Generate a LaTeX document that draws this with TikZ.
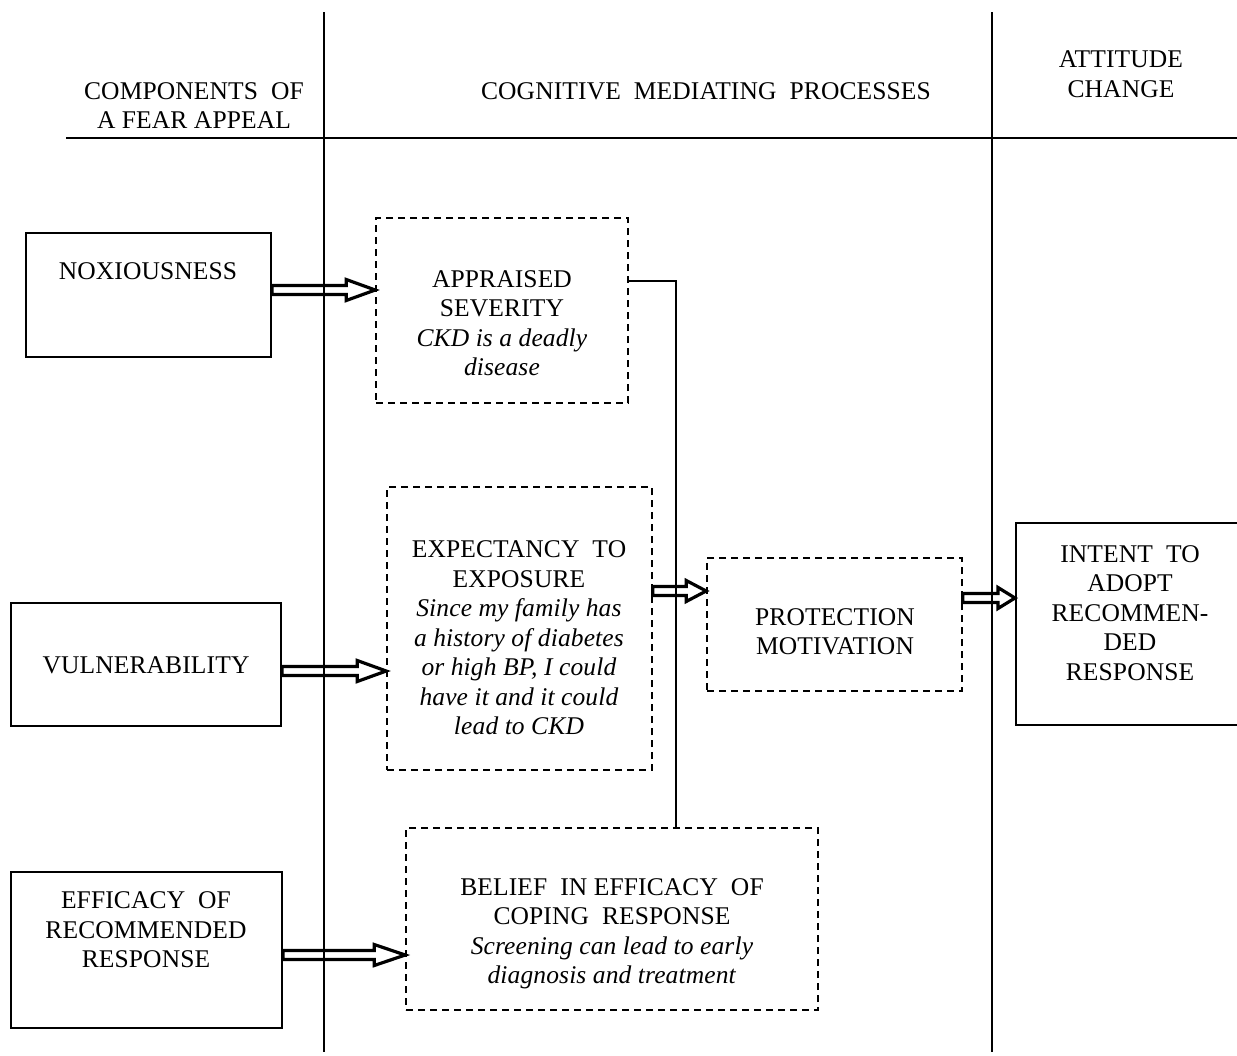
\documentclass[tikz,border=0pt]{standalone}
\usepackage{fontspec}
\setmainfont{Liberation Serif}[LetterSpace=0.5]
\usetikzlibrary{calc}
\newcommand{\blockarr}[3]{%
  \draw[blockarrow] let \p1=(#1), \p2=(#2) in
    (\x1,\y1+4.5pt) -- (\x2-#3,\y1+4.5pt) -- (\x2-#3,\y1+10.5pt) -- (\x2,\y1)
    -- (\x2-#3,\y1-10.5pt) -- (\x2-#3,\y1-4.5pt) -- (\x1,\y1-4.5pt) -- cycle;}
\begin{document}
\begin{tikzpicture}[x=1pt,y=-1pt,
  solidbox/.style={draw,line width=2pt,inner sep=0pt},
  dashbox/.style={draw,line width=1.6pt,dash pattern=on 7pt off 5pt,inner sep=0pt},
  lbl/.style={align=center,font=\fontsize{25.5}{29.5}\selectfont,inner sep=0pt},
  rule/.style={line width=2.2pt},
  blockarrow/.style={line width=3.2pt,line join=miter}]
\clip (0,0) rectangle (1237,1055);

% column rules
\coordinate (vt1) at (324,12);  \coordinate (vb1) at (324,1052);
\coordinate (vt2) at (992,12);  \coordinate (vb2) at (992,1052);
\coordinate (hl)  at (66,138);  \coordinate (hr)  at (1240,138);
\draw[rule] (vt1) -- (vb1);
\draw[rule] (vt2) -- (vb2);
\draw[rule] (hl) -- (hr);

% headers
\node[lbl] (h1) at (194,105.5) {COMPONENTS\ \ OF\\A FEAR APPEAL};
\node[lbl] (h2) at (706,91) {COGNITIVE\ \ MEDIATING\ \ PROCESSES};
\node[lbl] (h3) at (1121,74) {ATTITUDE\\CHANGE};

% boxes
\node[solidbox,minimum width=245pt,minimum height=124pt] (nox) at (148.5,295) {};
\node[solidbox,minimum width=270pt,minimum height=123pt] (vul) at (146,664.5) {};
\node[solidbox,minimum width=271pt,minimum height=156pt] (eff) at (146.5,950) {};
\node[dashbox,minimum width=252pt,minimum height=185pt] (app) at (502,310.5) {};
\node[dashbox,minimum width=265pt,minimum height=283pt] (exp) at (519.5,628.5) {};
\node[dashbox,minimum width=412pt,minimum height=182pt] (bel) at (612,919) {};
\node[dashbox,minimum width=255pt,minimum height=133pt] (pro) at (834.5,624.5) {};
\node[solidbox,minimum width=229pt,minimum height=202pt] (int) at (1130.5,624) {};

% texts
\node[lbl] (noxt) at (148,271) {NOXIOUSNESS};
\node[lbl] (vult) at (146,665) {VULNERABILITY};
\node[lbl] (efft) at (146,930) {EFFICACY\ \ OF\\RECOMMENDED\\RESPONSE};
\node[lbl] (appt) at (502,323) {APPRAISED\\SEVERITY\\\textit{CKD is a deadly}\\\textit{disease}};
\node[lbl] (expt) at (519,638) {EXPECTANCY\ \ TO\\EXPOSURE\\\textit{Since my family has}\\\textit{a history of diabetes}\\\textit{or high BP, I could}\\\textit{have it and it could}\\\textit{lead to CKD}};
\node[lbl] (belt) at (612,934) {BELIEF\ \ IN EFFICACY\ \ OF\\COPING\ \ RESPONSE\\\textit{Screening can lead to early}\\\textit{diagnosis and treatment}};
\node[lbl] (prot) at (835,631.5) {PROTECTION\\MOTIVATION};
\node[lbl] (intt) at (1130,613) {INTENT\ \ TO\\ADOPT\\RECOMMEN-\\DED\\RESPONSE};

% connector from appraised severity down to belief box
\coordinate (j1) at (676,281);
\draw[rule] (app.east |- j1) -- (j1) -- (j1 |- bel.north);

% block arrows
\coordinate (a1) at (nox.east |- 0,290);
\coordinate (a2) at (vul.east |- 0,671);
\coordinate (a3) at (eff.east |- 0,955);
\coordinate (a4) at (exp.east |- 0,591);
\coordinate (a5) at (pro.east |- 0,598);
\blockarr{a1}{app.west}{29pt}
\blockarr{a2}{exp.west}{29pt}
\blockarr{a3}{bel.west}{31pt}
\blockarr{a4}{pro.west}{20pt}
\blockarr{a5}{int.west}{17pt}
\end{tikzpicture}
\end{document}
